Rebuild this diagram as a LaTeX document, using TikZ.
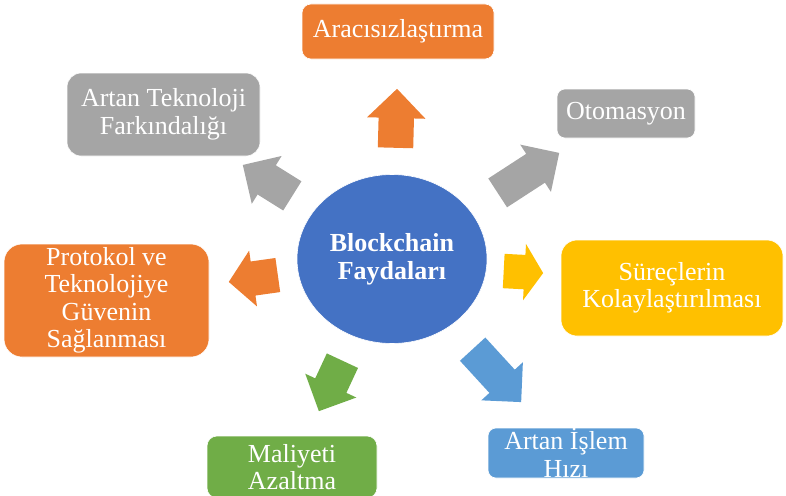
\documentclass[tikz,border=0pt]{standalone}
\usepackage{fontspec}
\setmainfont{Liberation Serif}
\usetikzlibrary{shapes.geometric}
\usetikzlibrary{shapes.arrows}

\definecolor{blueaccent}{HTML}{4472C4}
\definecolor{orangeaccent}{HTML}{ED7D31}
\definecolor{grayaccent}{HTML}{A5A5A5}
\definecolor{goldaccent}{HTML}{FFC000}
\definecolor{skyaccent}{HTML}{5B9BD5}
\definecolor{greenaccent}{HTML}{70AD47}

\begin{document}
\begin{tikzpicture}[x=1pt,y=-1pt,
		benefit/.style={rectangle,draw=white,line width=0.6pt,text=white,align=center,inner sep=0pt,font=\fontsize{26}{27.5}\selectfont},
		pointer/.style={single arrow,draw=none,anchor=tail,inner xsep=0pt,inner ysep=17pt,single arrow head extend=11pt}]
		\useasboundingbox (0,0) rectangle (786,495);

		% centre
		\node [ellipse,fill=blueaccent,draw=white,line width=0.6pt,minimum width=190pt,minimum height=169pt,text=white,align=center,font=\bfseries\fontsize{26}{28}\selectfont] (benefits) at (392,259) {Blockchain\\Faydaları};

		% boxes
		\node [benefit,fill=orangeaccent,minimum width=192pt,minimum height=55pt,rounded corners=9pt] (intermediary) at (398,31.5) {Aracısızlaştırma};
		\node [benefit,fill=grayaccent,minimum width=193pt,minimum height=83pt,rounded corners=14pt] (awareness) at (163.5,114.5) {Artan Teknoloji\\Farkındalığı};
		\node [benefit,fill=grayaccent,minimum width=138pt,minimum height=49pt,rounded corners=8pt] (automation) at (626,113.5) {Otomasyon};
		\node [benefit,fill=orangeaccent,minimum width=205pt,minimum height=113pt,rounded corners=18pt] (trust) at (106.5,300.5) {Protokol ve\\Teknolojiye\\Güvenin\\Sağlanması};
		\node [benefit,fill=goldaccent,minimum width=222pt,minimum height=96pt,rounded corners=16pt] (process) at (672,288) {Süreçlerin\\Kolaylaştırılması};
		\node [benefit,fill=greenaccent,minimum width=170pt,minimum height=62pt,rounded corners=10pt] (cost) at (292,467) {Maliyeti\\Azaltma};
		\node [benefit,fill=skyaccent,minimum width=156pt,minimum height=50pt,rounded corners=8pt] (speed) at (566,453) {Artan İşlem\\Hızı};

		% arrows, placed by their tails
		\node [pointer,fill=orangeaccent,minimum height=59pt,inner ysep=17.5pt,single arrow head extend=11.5pt,rotate=88.5] (toint) at (395.5,148) {};
		\node [pointer,fill=grayaccent,minimum height=58.4pt,rotate=148] (toaware) at (292.5,196) {};
		\node [pointer,fill=grayaccent,minimum height=73.4pt,rotate=33] (toauto) at (497.5,193) {};
		\node [pointer,fill=orangeaccent,minimum height=49.5pt,single arrow tip angle=98,rotate=188] (totrust) at (278,275) {};
		\node [pointer,fill=goldaccent,minimum height=39.5pt,single arrow tip angle=113,rotate=-3] (toproc) at (503.5,271) {};
		\node [pointer,fill=greenaccent,minimum height=55.7pt,rotate=245] (tocost) at (342.5,360.5) {};
		\node [pointer,fill=skyaccent,minimum height=71.8pt,rotate=-47.5] (tospeed) at (472.5,349) {};
	\end{tikzpicture}
\end{document}
